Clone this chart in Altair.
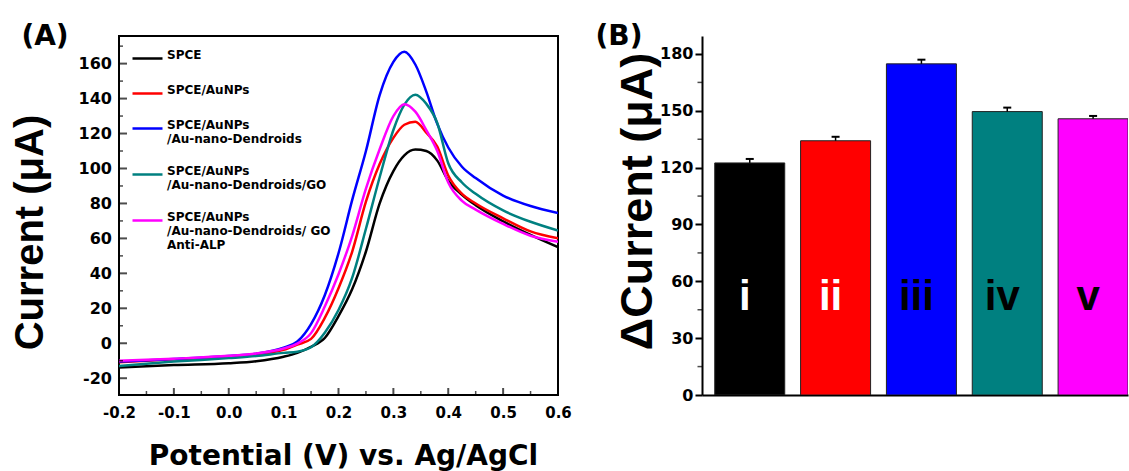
import altair as alt
import pandas as pd

# ---------------- Panel A data (DPV curves) ----------------
potential = [-0.2, -0.1, 0.0, 0.05, 0.1, 0.125, 0.15, 0.175, 0.2, 0.225, 0.25, 0.275,
             0.3, 0.32, 0.34, 0.36, 0.38, 0.4, 0.425, 0.45, 0.5, 0.55, 0.6]
spce = [-13.8, -12.5, -11.5, -10.3, -7.7, -5.5, -2.0, 3.0, 15.5, 31.0, 52.5, 80.0,
        98.5, 107.5, 110.8, 110.0, 104.5, 93.0, 85.0, 79.0, 69.8, 62.0, 55.0]
spce_aunps = [-10.8, -9.2, -7.6, -6.3, -3.8, -0.8, 2.5, 14.5, 31.5, 52.5, 81.0, 102.5,
              117.5, 125.0, 126.8, 120.5, 112.5, 96.0, 85.5, 80.0, 71.5, 64.0, 60.0]
dendroids = [-10.5, -9.0, -7.3, -6.0, -2.5, 1.0, 11.0, 27.5, 51.5, 82.0, 110.0, 142.0,
             161.0, 166.8, 159.5, 144.0, 125.5, 112.0, 101.0, 94.5, 84.5, 78.5, 74.5]
dendroids_go = [-13.0, -10.5, -8.5, -7.3, -5.5, -4.8, -2.3, 6.0, 19.0, 37.5, 65.5, 95.0,
                122.0, 136.5, 142.2, 137.0, 126.0, 103.0, 92.0, 85.5, 76.0, 69.5, 64.5]
anti_alp = [-10.0, -8.8, -7.2, -5.8, -3.0, -0.2, 5.8, 21.0, 39.5, 61.5, 88.5, 111.0,
            130.0, 136.8, 132.5, 122.0, 110.0, 92.0, 81.5, 76.5, 68.3, 61.5, 58.0]

series_names = [
    "SPCE",
    "SPCE/AuNPs",
    "SPCE/AuNPs|/Au-nano-Dendroids",
    "SPCE/AuNPs|/Au-nano-Dendroids/GO",
    "SPCE/AuNPs| /Au-nano-Dendroids/ GO| Anti-ALP",
]
series_colors = ["#000000", "#FF0000", "#0000FF", "#008080", "#FF00FF"]
series_values = [spce, spce_aunps, dendroids, dendroids_go, anti_alp]

y_major = [-20, 0, 20, 40, 60, 80, 100, 120, 140, 160]
y_minor = [-10, 10, 30, 50, 70, 90, 110, 130, 150, 170]
x_major = [-0.2, -0.1, 0.0, 0.1, 0.2, 0.3, 0.4, 0.5, 0.6]
x_minor = [-0.15, -0.05, 0.05, 0.15, 0.25, 0.35, 0.45, 0.55]

# ---------------- Panel B data (bars) ----------------
bar_labels = ["i", "ii", "iii", "iv", "v"]
bar_values = [122.5, 134.2, 174.8, 149.6, 145.8]
bar_errors = [2.1, 2.1, 2.2, 2.1, 1.5]
bar_colors = ["#000000", "#FF0000", "#0000FF", "#008080", "#FF00FF"]
bar_text_colors = ["#FFFFFF", "#FFFFFF", "#000000", "#000000", "#000000"]
b_major = [0, 30, 60, 90, 120, 150, 180]
b_minor = [15, 45, 75, 105, 135, 165]

# ---------------- tables ----------------
rows = []
for name, vals in zip(series_names, series_values):
    for p, c in zip(potential, vals):
        rows.append({"series": name, "potential": p, "current": c})
df_a = pd.DataFrame(rows)

df_b = pd.DataFrame({
    "pos": list(range(1, len(bar_labels) + 1)),
    "label": bar_labels,
    "value": bar_values,
    "err": bar_errors,
    "fill": bar_colors,
    "tcol": bar_text_colors,
})
df_b["top"] = df_b["value"] + df_b["err"]

HF = "DejaVu Sans"
RF = "Liberation Sans"
A_W, A_H = 439, 359
B_W, B_H = 426, 359
MINUS = "replace(datum.label, '\u2212', '-')"

xa_scale = alt.Scale(domain=[-0.2, 0.6], nice=False, zero=False)
ya_scale = alt.Scale(domain=[-29.6, 175.8], nice=False, zero=False)

lines = alt.Chart(df_a).mark_line(interpolate="monotone", strokeWidth=2.5, clip=True).encode(
    x=alt.X("potential:Q", scale=xa_scale,
            axis=alt.Axis(values=x_major, format=".1f", labelExpr=MINUS, ticks=False, domain=False,
                          grid=False, labelFont=HF, labelFontSize=15, labelFontWeight="bold",
                          labelColor="black", labelPadding=10, labelFlush=False, labelOverlap=False,
                          title="Potential (V) vs. Ag/AgCl", titleFont=HF, titleFontSize=28,
                          titleFontWeight="bold", titleColor="black", titleX=224, titleY=69,
                          titleAlign="center", titleBaseline="alphabetic")),
    y=alt.Y("current:Q", scale=ya_scale,
            axis=alt.Axis(values=y_major, labelExpr=MINUS, ticks=False, domain=False, grid=False,
                          labelFont=HF, labelFontSize=16, labelFontWeight="bold", labelColor="black",
                          labelPadding=7.5, labelFlush=False, labelOverlap=False, labelSeparation=0,
                          title="Current (μA)", titleFont=RF, titleFontSize=40, titleFontWeight="bold",
                          titleColor="black", titleAngle=270, titleX=-77, titleY=196,
                          titleAlign="center", titleBaseline="alphabetic")),
    color=alt.Color("series:N", sort=series_names,
                    scale=alt.Scale(domain=series_names, range=series_colors),
                    legend=alt.Legend(title=None, orient="none", legendX=12, legendY=6,
                                      symbolType="stroke", symbolSize=900, symbolStrokeWidth=2.5,
                                      labelFont=HF, labelFontSize=12, labelFontWeight="bold",
                                      labelColor="black", labelExpr="split(datum.label, '|')",
                                      labelBaseline="alphabetic", labelLimit=400, labelOffset=3,
                                      rowPadding=13, padding=0)),
)

ytick_major = alt.Chart(pd.DataFrame({"current": y_major})).mark_tick(
    color="black", thickness=2, size=8, orient="horizontal").encode(
    y=alt.Y("current:Q", axis=None), x=alt.value(4))
ytick_minor = alt.Chart(pd.DataFrame({"current": y_minor})).mark_tick(
    color="black", thickness=1.5, size=4, orient="horizontal").encode(
    y=alt.Y("current:Q", axis=None), x=alt.value(2))
xtick_major = alt.Chart(pd.DataFrame({"potential": x_major})).mark_tick(
    color="black", thickness=2, size=7, orient="vertical").encode(
    x=alt.X("potential:Q", axis=None), y=alt.value(A_H - 3.5))
xtick_minor = alt.Chart(pd.DataFrame({"potential": x_minor})).mark_tick(
    color="black", thickness=1.5, size=4, orient="vertical").encode(
    x=alt.X("potential:Q", axis=None), y=alt.value(A_H - 2))
tag_a = alt.Chart(pd.DataFrame({"t": ["(A)"]})).mark_text(
    font=HF, fontSize=28, fontWeight="bold", color="black", align="center", baseline="middle"
).encode(text="t:N", x=alt.value(-74), y=alt.value(1))

panel_a = alt.layer(lines, ytick_major, ytick_minor, xtick_major, xtick_minor, tag_a).resolve_axis(
    x="independent", y="independent"
).properties(width=A_W, height=A_H, view=alt.ViewBackground(stroke="black", strokeWidth=2))

xb_scale = alt.Scale(domain=[0.502, 0.502 + B_W / 87.9], nice=False, zero=False)
yb_scale = alt.Scale(domain=[0, 189.5], nice=False, zero=False)

bars = alt.Chart(df_b).mark_bar(width=70, clip=True, stroke="#222222", strokeWidth=1).encode(
    x=alt.X("pos:Q", scale=xb_scale,
            axis=alt.Axis(labels=False, ticks=False, title=None, grid=False,
                          domainColor="black", domainWidth=2)),
    y=alt.Y("value:Q", scale=yb_scale,
            axis=alt.Axis(values=b_major, grid=False, tickSize=7, tickWidth=2, tickColor="black",
                          domainColor="black", domainWidth=2, labelPadding=2,
                          labelFont=HF, labelFontSize=16, labelFontWeight="bold", labelColor="black",
                          labelFlush=False, labelOverlap=False,
                          title="ΔCurrent (μA)", titleFont=RF, titleFontSize=45, titleFontWeight="bold",
                          titleColor="black", titleAngle=270, titleX=-51, titleY=165,
                          titleAlign="center", titleBaseline="alphabetic")),
    fill=alt.Fill("fill:N", scale=None),
)
err_rule = alt.Chart(df_b).mark_rule(color="black", strokeWidth=1.5).encode(
    x=alt.X("pos:Q", axis=None), y=alt.Y("value:Q", axis=None), y2="top:Q")
err_cap = alt.Chart(df_b).mark_point(shape="stroke", size=64, color="black", strokeWidth=2,
                                     filled=False, opacity=1).encode(
    x=alt.X("pos:Q", axis=None), y=alt.Y("top:Q", axis=None))
bar_text = alt.Chart(df_b).mark_text(font=RF, fontSize=42, fontWeight="bold",
                                     baseline="alphabetic", align="center", dx=-5).encode(
    x=alt.X("pos:Q", axis=None), y=alt.Y(datum=45, axis=None), text="label:N",
    color=alt.Color("tcol:N", scale=None))
b_minor_ticks = alt.Chart(pd.DataFrame({"value": b_minor})).mark_tick(
    color="black", thickness=1.5, size=4.5, orient="horizontal").encode(
    y=alt.Y("value:Q", axis=None), x=alt.value(-2.25))
tag_b = alt.Chart(pd.DataFrame({"t": ["(B)"]})).mark_text(
    font=HF, fontSize=28, fontWeight="bold", color="black", align="center", baseline="middle"
).encode(text="t:N", x=alt.value(-83), y=alt.value(1))

panel_b = alt.layer(bars, err_rule, err_cap, bar_text, b_minor_ticks, tag_b).resolve_axis(
    x="independent", y="independent"
).properties(width=B_W, height=B_H, view=alt.ViewBackground(stroke="transparent"))

chart = alt.hconcat(panel_a, panel_b, spacing=144, bounds="flush").properties(
    padding={"left": 9, "top": 22, "right": 0, "bottom": 0}
).configure(background="white")

chart.save("out.html", embed_options={"renderer": "svg", "actions": False})
